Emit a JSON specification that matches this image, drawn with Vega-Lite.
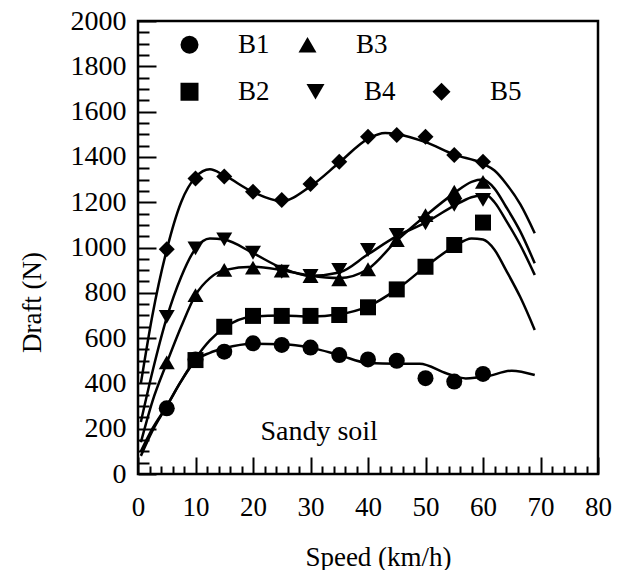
{
  "$schema": "https://vega.github.io/schema/vega-lite/v6.json",
  "autosize": "none",
  "width": 460,
  "height": 453,
  "padding": {"left": 138, "top": 21, "right": 19, "bottom": 96},
  "background": "white",
  "config": {
    "view": {"stroke": "black", "strokeWidth": 2.5},
    "font": "Liberation Serif",
    "axis": {"grid": false, "domain": false, "ticks": true, "tickColor": "black", "tickWidth": 2, "labelColor": "black", "titleColor": "black", "labelFont": "Liberation Serif", "titleFont": "Liberation Serif", "labelFontSize": 27, "titleFontSize": 27, "titleFontWeight": "normal"},
    "legend": {"labelFont": "Liberation Serif", "labelFontSize": 27, "labelColor": "black", "padding": 0}
  },
  "datasets": {
    "points": [
      {"series": "B1", "speed": 5, "draft": 290},
      {"series": "B1", "speed": 10, "draft": 506},
      {"series": "B1", "speed": 15, "draft": 540},
      {"series": "B1", "speed": 20, "draft": 577},
      {"series": "B1", "speed": 25, "draft": 570},
      {"series": "B1", "speed": 30, "draft": 558},
      {"series": "B1", "speed": 35, "draft": 525},
      {"series": "B1", "speed": 40, "draft": 506},
      {"series": "B1", "speed": 45, "draft": 500},
      {"series": "B1", "speed": 50, "draft": 423},
      {"series": "B1", "speed": 55, "draft": 408},
      {"series": "B1", "speed": 60, "draft": 442},
      {"series": "B2", "speed": 10, "draft": 503},
      {"series": "B2", "speed": 15, "draft": 650},
      {"series": "B2", "speed": 20, "draft": 698},
      {"series": "B2", "speed": 25, "draft": 698},
      {"series": "B2", "speed": 30, "draft": 698},
      {"series": "B2", "speed": 35, "draft": 702},
      {"series": "B2", "speed": 40, "draft": 736},
      {"series": "B2", "speed": 45, "draft": 815},
      {"series": "B2", "speed": 50, "draft": 915},
      {"series": "B2", "speed": 55, "draft": 1011},
      {"series": "B2", "speed": 60, "draft": 1110},
      {"series": "B3", "speed": 5, "draft": 493},
      {"series": "B3", "speed": 10, "draft": 790},
      {"series": "B3", "speed": 15, "draft": 901},
      {"series": "B3", "speed": 20, "draft": 911},
      {"series": "B3", "speed": 25, "draft": 898},
      {"series": "B3", "speed": 30, "draft": 874},
      {"series": "B3", "speed": 35, "draft": 860},
      {"series": "B3", "speed": 40, "draft": 904},
      {"series": "B3", "speed": 45, "draft": 1033},
      {"series": "B3", "speed": 50, "draft": 1143},
      {"series": "B3", "speed": 55, "draft": 1246},
      {"series": "B3", "speed": 60, "draft": 1290},
      {"series": "B4", "speed": 5, "draft": 694},
      {"series": "B4", "speed": 10, "draft": 996},
      {"series": "B4", "speed": 15, "draft": 1036},
      {"series": "B4", "speed": 20, "draft": 977},
      {"series": "B4", "speed": 25, "draft": 893},
      {"series": "B4", "speed": 30, "draft": 874},
      {"series": "B4", "speed": 35, "draft": 901},
      {"series": "B4", "speed": 40, "draft": 989},
      {"series": "B4", "speed": 45, "draft": 1055},
      {"series": "B4", "speed": 50, "draft": 1107},
      {"series": "B4", "speed": 55, "draft": 1188},
      {"series": "B4", "speed": 60, "draft": 1210},
      {"series": "B5", "speed": 5, "draft": 992},
      {"series": "B5", "speed": 10, "draft": 1305},
      {"series": "B5", "speed": 15, "draft": 1313},
      {"series": "B5", "speed": 20, "draft": 1246},
      {"series": "B5", "speed": 25, "draft": 1210},
      {"series": "B5", "speed": 30, "draft": 1280},
      {"series": "B5", "speed": 35, "draft": 1379},
      {"series": "B5", "speed": 40, "draft": 1489},
      {"series": "B5", "speed": 45, "draft": 1497},
      {"series": "B5", "speed": 50, "draft": 1489},
      {"series": "B5", "speed": 55, "draft": 1408},
      {"series": "B5", "speed": 60, "draft": 1379}
    ],
    "curves": [
      {"series": "B1", "speed": 0.5, "draft": 80},
      {"series": "B1", "speed": 2.5, "draft": 190},
      {"series": "B1", "speed": 5, "draft": 300},
      {"series": "B1", "speed": 7.5, "draft": 410},
      {"series": "B1", "speed": 10, "draft": 500},
      {"series": "B1", "speed": 12.5, "draft": 535},
      {"series": "B1", "speed": 15, "draft": 555},
      {"series": "B1", "speed": 20, "draft": 575},
      {"series": "B1", "speed": 25, "draft": 573},
      {"series": "B1", "speed": 30, "draft": 558},
      {"series": "B1", "speed": 35, "draft": 525},
      {"series": "B1", "speed": 40, "draft": 490},
      {"series": "B1", "speed": 45, "draft": 487},
      {"series": "B1", "speed": 49, "draft": 487},
      {"series": "B1", "speed": 53.7, "draft": 444},
      {"series": "B1", "speed": 57, "draft": 422},
      {"series": "B1", "speed": 60.5, "draft": 430},
      {"series": "B1", "speed": 65, "draft": 456},
      {"series": "B1", "speed": 69, "draft": 437},
      {"series": "B2", "speed": 0.5, "draft": 100},
      {"series": "B2", "speed": 2.5, "draft": 200},
      {"series": "B2", "speed": 5, "draft": 300},
      {"series": "B2", "speed": 7.5, "draft": 410},
      {"series": "B2", "speed": 10, "draft": 510},
      {"series": "B2", "speed": 12.5, "draft": 590},
      {"series": "B2", "speed": 15, "draft": 645},
      {"series": "B2", "speed": 20, "draft": 695},
      {"series": "B2", "speed": 25, "draft": 700},
      {"series": "B2", "speed": 30, "draft": 695},
      {"series": "B2", "speed": 35, "draft": 705},
      {"series": "B2", "speed": 40, "draft": 740},
      {"series": "B2", "speed": 45, "draft": 815},
      {"series": "B2", "speed": 50, "draft": 915},
      {"series": "B2", "speed": 55, "draft": 1005},
      {"series": "B2", "speed": 58, "draft": 1040},
      {"series": "B2", "speed": 60, "draft": 1035},
      {"series": "B2", "speed": 62, "draft": 990},
      {"series": "B2", "speed": 64, "draft": 900},
      {"series": "B2", "speed": 66.5, "draft": 780},
      {"series": "B2", "speed": 69, "draft": 636},
      {"series": "B3", "speed": 0.5, "draft": 140},
      {"series": "B3", "speed": 2.5, "draft": 320},
      {"series": "B3", "speed": 5, "draft": 490},
      {"series": "B3", "speed": 7.5, "draft": 650},
      {"series": "B3", "speed": 10, "draft": 790},
      {"series": "B3", "speed": 12.5, "draft": 865},
      {"series": "B3", "speed": 15, "draft": 900},
      {"series": "B3", "speed": 20, "draft": 915},
      {"series": "B3", "speed": 25, "draft": 900},
      {"series": "B3", "speed": 30, "draft": 875},
      {"series": "B3", "speed": 35, "draft": 865},
      {"series": "B3", "speed": 40, "draft": 905},
      {"series": "B3", "speed": 45, "draft": 1030},
      {"series": "B3", "speed": 50, "draft": 1140},
      {"series": "B3", "speed": 55, "draft": 1240},
      {"series": "B3", "speed": 58, "draft": 1290},
      {"series": "B3", "speed": 60, "draft": 1300},
      {"series": "B3", "speed": 62, "draft": 1260},
      {"series": "B3", "speed": 64, "draft": 1180},
      {"series": "B3", "speed": 66.5, "draft": 1070},
      {"series": "B3", "speed": 69, "draft": 930},
      {"series": "B4", "speed": 0.5, "draft": 230},
      {"series": "B4", "speed": 2.5, "draft": 450},
      {"series": "B4", "speed": 5, "draft": 690},
      {"series": "B4", "speed": 7.5, "draft": 870},
      {"series": "B4", "speed": 10, "draft": 995},
      {"series": "B4", "speed": 12.5, "draft": 1040},
      {"series": "B4", "speed": 15, "draft": 1035},
      {"series": "B4", "speed": 20, "draft": 975},
      {"series": "B4", "speed": 25, "draft": 910},
      {"series": "B4", "speed": 30, "draft": 875},
      {"series": "B4", "speed": 35, "draft": 890},
      {"series": "B4", "speed": 40, "draft": 970},
      {"series": "B4", "speed": 45, "draft": 1050},
      {"series": "B4", "speed": 50, "draft": 1110},
      {"series": "B4", "speed": 55, "draft": 1185},
      {"series": "B4", "speed": 58, "draft": 1222},
      {"series": "B4", "speed": 60.5, "draft": 1232},
      {"series": "B4", "speed": 62, "draft": 1200},
      {"series": "B4", "speed": 64, "draft": 1120},
      {"series": "B4", "speed": 66.5, "draft": 1010},
      {"series": "B4", "speed": 69, "draft": 879},
      {"series": "B5", "speed": 0.5, "draft": 400},
      {"series": "B5", "speed": 2.5, "draft": 700},
      {"series": "B5", "speed": 5, "draft": 990},
      {"series": "B5", "speed": 7.5, "draft": 1200},
      {"series": "B5", "speed": 10, "draft": 1310},
      {"series": "B5", "speed": 12.5, "draft": 1345},
      {"series": "B5", "speed": 15, "draft": 1318},
      {"series": "B5", "speed": 20, "draft": 1245},
      {"series": "B5", "speed": 25, "draft": 1205},
      {"series": "B5", "speed": 30, "draft": 1270},
      {"series": "B5", "speed": 35, "draft": 1375},
      {"series": "B5", "speed": 40, "draft": 1480},
      {"series": "B5", "speed": 43, "draft": 1505},
      {"series": "B5", "speed": 45, "draft": 1500},
      {"series": "B5", "speed": 50, "draft": 1465},
      {"series": "B5", "speed": 55, "draft": 1410},
      {"series": "B5", "speed": 60, "draft": 1370},
      {"series": "B5", "speed": 62, "draft": 1340},
      {"series": "B5", "speed": 64, "draft": 1283},
      {"series": "B5", "speed": 66.5, "draft": 1190},
      {"series": "B5", "speed": 69, "draft": 1063}
    ]
  },
  "layer": [
    {
      "data": {"name": "curves"},
      "mark": {"type": "line", "color": "black", "strokeWidth": 2.5, "interpolate": "monotone"},
      "encoding": {
        "x": {"field": "speed", "type": "quantitative", "scale": {"domain": [0, 80], "nice": false, "zero": false}, "axis": null},
        "y": {"field": "draft", "type": "quantitative", "scale": {"domain": [0, 2000], "nice": false}, "axis": null},
        "detail": {"field": "series"}
      }
    },
    {
      "data": {"name": "points"},
      "transform": [{"filter": "datum.series == 'B1' || datum.series == 'B3'"}],
      "mark": {"type": "point", "filled": true, "color": "black", "opacity": 1, "size": 256},
      "encoding": {
        "x": {"field": "speed", "type": "quantitative",
          "axis": {"orient": "bottom", "values": [0,2,4,6,8,10,12,14,16,18,20,22,24,26,28,30,32,34,36,38,40,42,44,46,48,50,52,54,56,58,60,62,64,66,68,70,72,74,76,78,80],
            "offset": -17, "tickSize": 17,
            "tickDash": {"condition": {"test": "datum.value % 10 !== 0", "value": [8, 9]}, "value": [20, 0]},
            "tickDashOffset": {"condition": {"test": "datum.value % 10 !== 0", "value": 8}, "value": 0},
            "labelExpr": "datum.value % 10 === 0 ? format(datum.value, 'd') : ''",
            "labelPadding": 20, "labelFlush": false, "labelOverlap": false,
            "title": "Speed (km/h)", "titlePadding": 24, "titleX": 240}},
        "y": {"field": "draft", "type": "quantitative",
          "axis": {"orient": "left", "values": [0,50,100,150,200,250,300,350,400,450,500,550,600,650,700,750,800,850,900,950,1000,1050,1100,1150,1200,1250,1300,1350,1400,1450,1500,1550,1600,1650,1700,1750,1800,1850,1900,1950,2000],
            "offset": -18, "tickSize": 18,
            "tickDash": {"condition": {"test": "datum.value % 200 !== 0", "value": [11, 7]}, "value": [20, 0]},
            "tickDashOffset": {"condition": {"test": "datum.value % 200 !== 0", "value": 11}, "value": 0},
            "labelExpr": "datum.value % 200 === 0 ? format(datum.value, 'd') : ''",
            "labelPadding": 12, "labelFontSize": 28, "labelFlush": false, "labelOverlap": false,
            "title": "Draft (N)", "titleX": -124, "titleY": 281, "titleBaseline": "middle"}},
        "shape": {"field": "series", "type": "nominal",
          "scale": {"domain": ["B1", "B3"], "range": ["circle", "triangle-up"]},
          "legend": {"orient": "none", "legendX": 38, "legendY": 10, "direction": "horizontal", "title": null, "symbolSize": 324, "symbolFillColor": "black", "symbolStrokeColor": "black", "symbolStrokeWidth": 0, "symbolOpacity": 1, "labelOffset": 35, "columnPadding": 24}}
      }
    },
    {
      "data": {"name": "points"},
      "transform": [{"filter": "datum.series == 'B2' || datum.series == 'B4' || datum.series == 'B5'"}],
      "mark": {"type": "point", "filled": true, "color": "black", "opacity": 1, "size": 256},
      "encoding": {
        "x": {"field": "speed", "type": "quantitative", "axis": null},
        "y": {"field": "draft", "type": "quantitative", "axis": null},
        "shape": {"field": "series", "type": "nominal",
          "scale": {"domain": ["B2", "B4", "B5"], "range": ["square", "triangle-down", "diamond"]},
          "legend": {"orient": "none", "legendX": 38, "legendY": 57, "direction": "horizontal", "title": null, "symbolSize": 324, "symbolFillColor": "black", "symbolStrokeColor": "black", "symbolStrokeWidth": 0, "symbolOpacity": 1, "labelOffset": 35, "columnPadding": 32}}
      }
    },
    {
      "data": {"values": [{}]},
      "mark": {"type": "text", "fontSize": 28, "font": "Liberation Serif", "color": "black", "align": "center", "baseline": "alphabetic"},
      "encoding": {
        "x": {"datum": 31.5, "type": "quantitative", "axis": null},
        "y": {"datum": 150, "type": "quantitative", "axis": null},
        "text": {"value": "Sandy soil"}
      }
    }
  ],
  "resolve": {
    "scale": {"shape": "independent"},
    "legend": {"shape": "independent"},
    "axis": {"x": "independent", "y": "independent"}
  }
}
